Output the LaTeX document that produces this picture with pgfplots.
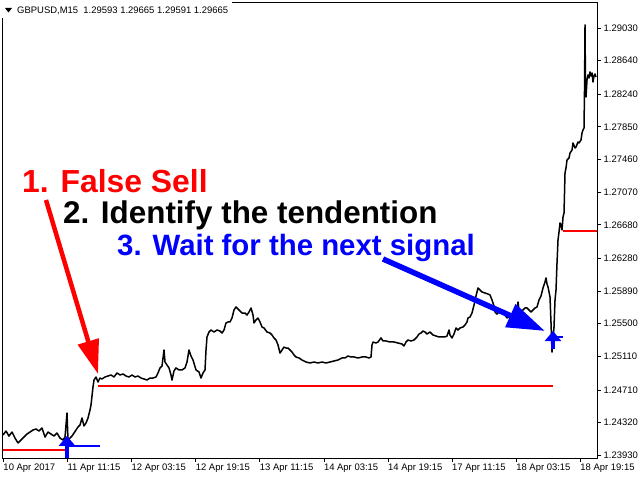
\documentclass[border=0pt]{standalone}
\usepackage{pgfplots}
\pgfplotsset{compat=1.18}
\usepackage{fontspec}
\setmainfont{Liberation Sans}
\usetikzlibrary{arrows.meta}
\definecolor{mtred}{RGB}{255,0,0}
\definecolor{mtblue}{RGB}{0,0,255}
\begin{document}
\begin{tikzpicture}[x=1bp,y=1bp]
\path[use as bounding box] (0,0) rectangle (640,480);
\begin{axis}[
  at={(2bp,22bp)}, anchor=south west,
  scale only axis, width=595bp, height=456bp,
  xmin=2, xmax=597, ymin=1.23896, ymax=1.29340,
  axis line style={black, line width=0.8bp},
  clip=false,
  xtick pos=bottom, ytick pos=right,
  tick align=outside, major tick length=4bp,
  tick style={black, line width=0.6bp},
  xtick={3.3,67.4,131.5,195.6,259.7,323.8,387.9,452,516.1,580.2},
  xticklabels={10 Apr 2017, 11 Apr 11:15, 12 Apr 03:15, 12 Apr 19:15, 13 Apr 11:15, 14 Apr 03:15, 14 Apr 19:15, 17 Apr 11:15, 18 Apr 03:15, 18 Apr 19:15},
  ytick={1.23930,1.24320,1.24710,1.25110,1.25500,1.25890,1.26280,1.26680,1.27070,1.27460,1.27850,1.28240,1.28640,1.29030},
  yticklabels={1.23930,1.24320,1.24710,1.25110,1.25500,1.25890,1.26280,1.26680,1.27070,1.27460,1.27850,1.28240,1.28640,1.29030},
  tick label style={font=\fontsize{9.5}{11}\selectfont},
  xticklabel style={anchor=north west, inner sep=0pt, yshift=-2bp},
  yticklabel style={anchor=west, inner sep=0pt, xshift=2.5bp},
  /pgf/number format/assume math mode=true,
]
\addplot[black, line width=1.5bp, line join=round] coordinates {
(3,1.24170)(6,1.24218)(9,1.24158)(12,1.24206)(15,1.24134)(18,1.24075)(21,1.24111)(24,1.24146)(27,1.24182)(30,1.24206)
(33,1.24230)(36,1.24242)(39,1.24218)(42,1.24254)(45,1.24146)(48,1.24206)(51,1.24182)(54,1.24158)(57,1.24194)(60,1.24134)
(63,1.24111)(65,1.24146)(67,1.24433)(68,1.24111)(70,1.24134)(72,1.24158)(74,1.24194)(76,1.24230)(78,1.24266)(80,1.24290)
(82,1.24373)(84,1.24278)(86,1.24314)(88,1.24373)(90,1.24469)(91,1.24528)(93,1.24744)(94,1.24827)(96,1.24863)(98,1.24803)
(100,1.24851)(102,1.24839)(105,1.24863)(108,1.24875)(111,1.24887)(114,1.24863)(117,1.24911)(120,1.24887)(123,1.24899)(126,1.24875)
(129,1.24863)(132,1.24887)(135,1.24863)(138,1.24875)(141,1.24851)(144,1.24839)(147,1.24827)(150,1.24851)(153,1.24851)(156,1.24863)
(158,1.24911)(160,1.24971)(162,1.24994)(164,1.25185)(165,1.25042)(167,1.25006)(169,1.24971)(171,1.24887)(172,1.24827)(174,1.24935)
(176,1.24971)(179,1.24947)(182,1.24947)(185,1.24971)(187,1.25042)(189,1.25185)(191,1.25113)(193,1.25066)(196,1.24947)(199,1.24923)
(201,1.24851)(203,1.24911)(205,1.24947)(206,1.25185)(207,1.25341)(209,1.25400)(211,1.25424)(214,1.25400)(217,1.25424)(220,1.25412)
(222,1.25388)(224,1.25424)(226,1.25508)(228,1.25520)(230,1.25520)(232,1.25567)(234,1.25663)(236,1.25699)(238,1.25675)(240,1.25651)
(242,1.25627)(245,1.25627)(247,1.25603)(249,1.25639)(251,1.25687)(253,1.25603)(254,1.25508)(256,1.25544)(258,1.25567)(260,1.25520)
(262,1.25460)(264,1.25448)(267,1.25400)(270,1.25388)(272,1.25364)(274,1.25329)(276,1.25305)(278,1.25245)(280,1.25149)(282,1.25185)
(284,1.25221)(286,1.25209)(288,1.25209)(290,1.25185)(292,1.25161)(294,1.25126)(296,1.25102)(299,1.25090)(302,1.25066)(306,1.25042)
(310,1.25030)(314,1.25042)(318,1.25030)(322,1.25042)(326,1.25030)(330,1.25042)(334,1.25054)(338,1.25066)(342,1.25090)(345,1.25090)
(348,1.25114)(351,1.25102)(354,1.25102)(358,1.25090)(362,1.25102)(366,1.25102)(369,1.25090)(371,1.25102)(372,1.25245)(373,1.25281)
(376,1.25269)(378,1.25281)(381,1.25329)(383,1.25293)(386,1.25293)(390,1.25281)(394,1.25281)(398,1.25269)(402,1.25257)(404,1.25233)
(406,1.25281)(408,1.25305)(411,1.25293)(414,1.25305)(417,1.25341)(419,1.25376)(421,1.25388)(423,1.25412)(425,1.25400)(427,1.25376)
(430,1.25400)(433,1.25364)(436,1.25352)(439,1.25341)(442,1.25341)(445,1.25341)(447,1.25352)(449,1.25424)(450,1.25364)(452,1.25329)
(454,1.25376)(456,1.25448)(458,1.25424)(460,1.25448)(463,1.25460)(465,1.25484)(467,1.25520)(468,1.25567)(470,1.25579)(472,1.25627)
(474,1.25722)(475,1.25782)(477,1.25878)(478,1.25926)(480,1.25902)(482,1.25878)(485,1.25866)(488,1.25854)(490,1.25842)(492,1.25782)
(494,1.25711)(495,1.25639)(497,1.25615)(499,1.25639)(501,1.25651)(503,1.25639)(505,1.25603)(507,1.25567)(509,1.25579)(511,1.25591)
(513,1.25579)(515,1.25627)(517,1.25663)(518,1.25758)(519,1.25663)(521,1.25651)(523,1.25663)(525,1.25687)(527,1.25687)(529,1.25663)
(531,1.25639)(533,1.25663)(535,1.25687)(537,1.25699)(539,1.25782)(541,1.25830)(543,1.25926)(545,1.25997)(546,1.26045)(547,1.25973)
(548,1.25938)(549,1.25878)(550,1.25818)(551,1.25508)(552,1.25161)(553,1.25305)(554,1.25460)(555,1.25782)(556,1.25902)(557,1.26224)
(558,1.26499)(559,1.26594)(560,1.26702)(561,1.26678)(562,1.26618)(563,1.26773)(564,1.26821)(565,1.27299)(566,1.27359)(567,1.27454)
(569,1.27478)(570,1.27537)(572,1.27573)(573,1.27657)(575,1.27597)(576,1.27609)(578,1.27669)(579,1.27657)(581,1.27693)(582,1.27776)
(583,1.27812)(584,1.27836)(584.5,1.28290)(585,1.29066)(585.5,1.28290)(586,1.28206)(587,1.28409)(588,1.28469)(589,1.28433)(590,1.28505)
(591,1.28457)(592,1.28493)(593,1.28385)(594,1.28457)(595,1.28481)(596,1.28445)
};
% red levels
\addplot[mtred, line width=2.5bp] coordinates {(3,1.23991)(66,1.23991)};
\addplot[mtred, line width=2.5bp] coordinates {(98,1.24756)(553,1.24756)};
\addplot[mtred, line width=2.5bp] coordinates {(563,1.26606)(597,1.26606)};
% blue levels
\addplot[mtblue, line width=2.5bp] coordinates {(68,1.24039)(100,1.24039)};
\addplot[mtblue, line width=2.5bp] coordinates {(553,1.25341)(563,1.25341)};
% buy arrows
\draw[mtblue, line width=4bp, -{Triangle[length=10bp,width=16bp]}] (axis cs:67,1.23896) -- (axis cs:67,1.24160);
\draw[mtblue, line width=4bp, -{Triangle[length=10bp,width=16bp]}] (axis cs:553,1.25197) -- (axis cs:553,1.25412);
% annotation arrows
\draw[mtred, line width=4.5bp, -{Triangle[length=34bp,width=21bp]}] (axis cs:46,1.26976) -- (axis cs:98,1.24899);
\draw[mtblue, line width=5.5bp, -{Triangle[length=38bp,width=24bp]}] (axis cs:383,1.26272) -- (axis cs:545,1.25412);
\end{axis}
% header
\fill[white] (0,462) rectangle (232,480);
\fill[black] (5,472) -- (12,472) -- (8.5,467.5) -- cycle;
\node[anchor=base west, inner sep=0pt, font=\fontsize{9.5}{11}\selectfont] at (17,466) {GBPUSD,M15\ \ 1.29593 1.29665 1.29591 1.29665};
% annotation texts
\node[anchor=base west, inner sep=0pt, text=mtred, font=\fontsize{32}{36}\selectfont\bfseries] at (22,287) {1. False Sell};
\node[anchor=base west, inner sep=0pt, text=black, font=\fontsize{31.5}{36}\selectfont\bfseries] at (63,256) {2. Identify the tendention};
\node[anchor=base west, inner sep=0pt, text=mtblue, font=\fontsize{29.5}{36}\selectfont\bfseries] at (117,224) {3. Wait for the next signal};
\end{tikzpicture}
\end{document}
